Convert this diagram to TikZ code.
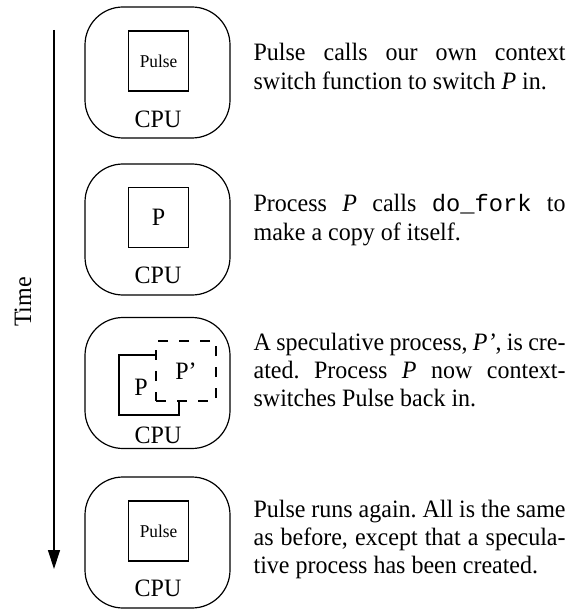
\documentclass[tikz,border=0pt]{standalone}
\usepackage{fontspec}
\setmainfont[FakeStretch=0.96]{Liberation Serif}
\setmonofont[Scale=0.95]{Liberation Mono}
\usepackage{tikz}
\usetikzlibrary{arrows.meta}
\frenchspacing
\newcommand{\jline}[1]{\makebox[156pt][s]{#1}}

\begin{document}
\begin{tikzpicture}[x=0.5pt,y=-0.5pt,line width=0.6pt]
\tikzset{every node/.style={font=\fontsize{12.5}{14.2}\selectfont},
  cpubox/.style={draw,rounded corners=19pt,minimum width=72.5pt,minimum height=65.5pt,inner sep=0pt},
  procbox/.style={draw,minimum size=30pt,inner sep=0pt},
  smallproc/.style={procbox,font=\fontsize{9}{10}\selectfont},
  note/.style={anchor=base west,text width=156pt,align=justify,inner sep=0pt}}
\useasboundingbox (0,0) rectangle (571,609);

% time axis
\node[rotate=90] (timelbl) at (23,302) {Time};
\coordinate (tstart) at (54,30);
\coordinate (tend) at (54,569);
\draw[-{Triangle[length=9.5pt,width=6pt]}] (tstart) -- (tend);

% step 1
\node[cpubox] (cpu1) at (157.5,72.5) {};
\node[smallproc] (pulse1) at (158.5,61) {Pulse};
\node (cpu1lbl) at (158,119) {CPU};
\node[note] (note1) at (253,61) {\jline{Pulse calls our own context}\\
  switch function to switch \textit{P} in.};

% step 2
\node[cpubox] (cpu2) at (157.5,229.5) {};
\node[procbox] (proc2) at (158.5,217.5) {P};
\node (cpu2lbl) at (158,275) {CPU};
\node[note] (note2) at (253,212) {\jline{Process \textit{P} calls \texttt{do\_fork} to}\\
  make a copy of itself.};

% step 3
\node[cpubox] (cpu3) at (157.5,383) {};
\coordinate (pa) at (156,355);
\coordinate (pb) at (119,355);
\coordinate (pc) at (119,415);
\coordinate (pd) at (179,415);
\coordinate (pe) at (179,400);
\draw (pa) -- (pb) -- (pc) -- (pd) -- (pe);
\node (proc3) at (141,387) {P};
\node[procbox,dash pattern=on 5pt off 5.5pt] (pprime) at (186,371) {P’};
\node (cpu3lbl) at (158,435) {CPU};
\node[note] (note3) at (253,350) {\jline{A speculative process, \textit{P’}, is cre-}\\
  \jline{ated. Process \textit{P} now context-}\\
  switches Pulse back in.};

% step 4
\node[cpubox] (cpu4) at (157.5,542.5) {};
\node[smallproc] (pulse4) at (158.5,531) {Pulse};
\node (cpu4lbl) at (158,588) {CPU};
\node[note] (note4) at (253,517) {\jline{Pulse runs again. All is the same}\\
  \jline{as before, except that a specula-}\\
  tive process has been created.};

\end{tikzpicture}
\end{document}
